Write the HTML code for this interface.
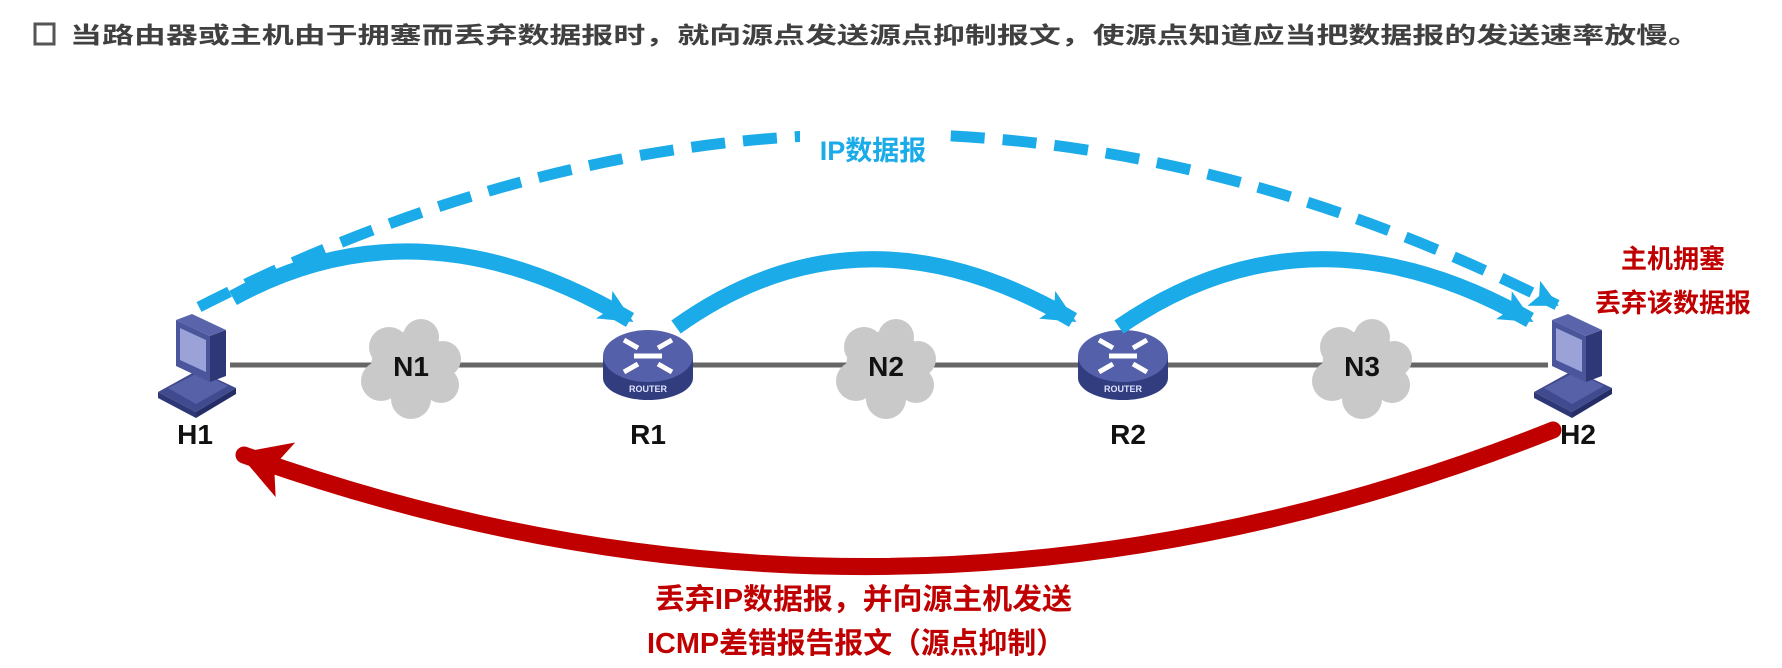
<!DOCTYPE html>
<html><head><meta charset="utf-8"><style>
html,body{margin:0;padding:0;background:#fff;width:1782px;height:668px;overflow:hidden}
svg{display:block}
text{font-family:"Liberation Sans","Noto Sans CJK SC",sans-serif;font-weight:bold}
</style></head><body>
<svg width="1782" height="668" viewBox="0 0 1782 668" xmlns="http://www.w3.org/2000/svg">
<defs>
<marker id="ab" markerUnits="userSpaceOnUse" markerWidth="40" markerHeight="40" refX="30" refY="20" orient="auto"><path d="M0,4 L34,20 L0,36 L8,20 Z" fill="#1aabe8"/></marker>
<marker id="abd" markerUnits="userSpaceOnUse" markerWidth="40" markerHeight="40" refX="26" refY="16" orient="auto"><path d="M0,2 L28,16 L0,30 L6,16 Z" fill="#1aabe8"/></marker>
<marker id="ar" markerUnits="userSpaceOnUse" markerWidth="70" markerHeight="70" refX="44" refY="35" orient="auto"><path d="M0,6 L50,35 L0,64 L12,35 Z" fill="#c00000"/></marker>
<g id="pc">
 <polygon points="-40,34 -2,54 38,30 0,12" fill="#3f4a8f"/>
 <polygon points="-30,30 -2,46 30,28 2,14" fill="#5661a8"/>
 <polygon points="-40,34 -2,54 -2,60 -40,40" fill="#2f3877"/>
 <polygon points="-2,54 38,30 38,36 -2,60" fill="#252d66"/>
 <polygon points="-22,-38 12,-22 12,24 -22,8" fill="#4a559c"/>
 <polygon points="-18,-30 8,-18 8,14 -18,2" fill="#9aa2d8"/>
 <polygon points="-22,-38 -6,-44 28,-28 12,-22" fill="#5a64aa"/>
 <polygon points="12,-22 28,-28 28,18 12,24" fill="#2f3877"/>
</g>
<g id="rt">
 <rect x="-45" y="-12" width="90" height="22" fill="#323d80"/>
 <ellipse cx="0" cy="10" rx="45" ry="22" fill="#323d80"/>
 <ellipse cx="0" cy="-12" rx="45" ry="26" fill="#5560aa"/>
 <g stroke="#fff" stroke-width="5" fill="none">
  <path d="M-24,-28 L-10,-20 M-24,4 L-10,-4 M24,-28 L10,-20 M24,4 L10,-4"/>
  <path d="M-14,-12 L14,-12"/>
 </g>
 <text x="0" y="24" font-size="9" fill="#dfe3ff" text-anchor="middle">ROUTER</text>
</g>
<g id="cl" fill="#c9c9c9">
 <circle cx="-22" cy="-18" r="20"/><circle cx="10" cy="-28" r="18"/><circle cx="32" cy="-6" r="18"/>
 <circle cx="30" cy="20" r="18"/><circle cx="0" cy="34" r="20"/><circle cx="-30" cy="16" r="20"/>
 <ellipse cx="0" cy="2" rx="40" ry="36"/>
</g>
</defs>

<rect x="35" y="24" width="19" height="20" fill="none" stroke="#555" stroke-width="3"/>
<text x="70" y="43" font-size="23" fill="#404040" textLength="1630" lengthAdjust="spacingAndGlyphs">当路由器或主机由于拥塞而丢弃数据报时，就向源点发送源点抑制报文，使源点知道应当把数据报的发送速率放慢。</text>

<line x1="230" y1="365" x2="1548" y2="365" stroke="#666" stroke-width="5"/>
<use href="#cl" x="411" y="365"/>
<use href="#cl" x="886" y="365"/>
<use href="#cl" x="1362" y="365"/>
<use href="#rt" x="648" y="368"/>
<use href="#rt" x="1123" y="368"/>
<use href="#pc" x="198" y="358"/>
<use href="#pc" x="1574" y="358"/>

<g font-size="28" fill="#111" text-anchor="middle">
<text x="411" y="376">N1</text><text x="886" y="376">N2</text><text x="1362" y="376">N3</text>
<text x="195" y="444">H1</text><text x="648" y="444">R1</text><text x="1128" y="444">R2</text><text x="1578" y="444">H2</text>
</g>

<path d="M199,307 Q878,-38 1557,305" fill="none" stroke="#1aabe8" stroke-width="11" stroke-dasharray="34,18" marker-end="url(#abd)"/>
<rect x="800" y="128" width="150" height="44" fill="#fff"/>
<text x="873" y="160" font-size="27" fill="#1aabe8" text-anchor="middle">IP数据报</text>

<path d="M233,298 Q420,195 630,320" fill="none" stroke="#1aabe8" stroke-width="16" marker-end="url(#ab)"/>
<path d="M676,327 Q860,195 1073,320" fill="none" stroke="#1aabe8" stroke-width="16" marker-end="url(#ab)"/>
<path d="M1119,327 Q1310,195 1530,320" fill="none" stroke="#1aabe8" stroke-width="16" marker-end="url(#ab)"/>

<text x="1673" y="268" font-size="26" fill="#c00000" text-anchor="middle">主机拥塞</text>
<text x="1673" y="312" font-size="26" fill="#c00000" text-anchor="middle">丢弃该数据报</text>

<path d="M1553,430 Q900,690 244,455" fill="none" stroke="#c00000" stroke-width="17" stroke-linecap="round" marker-end="url(#ar)"/>

<text x="655" y="609" font-size="29" fill="#c00000" textLength="417" lengthAdjust="spacingAndGlyphs">丢弃IP数据报，并向源主机发送</text>
<text x="647" y="653" font-size="29" fill="#c00000" textLength="418" lengthAdjust="spacingAndGlyphs">ICMP差错报告报文（源点抑制）</text>
</svg>
</body></html>
